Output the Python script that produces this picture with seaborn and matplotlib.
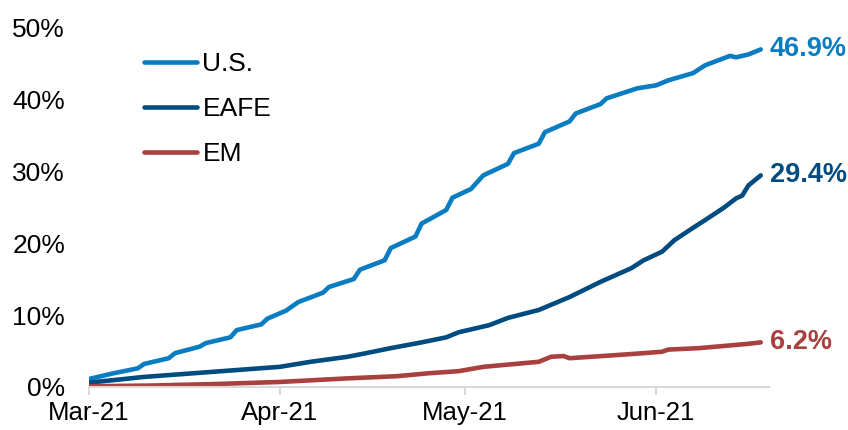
import pandas as pd
import matplotlib.pyplot as plt
import matplotlib.dates as mdates
from matplotlib.ticker import FuncFormatter
import seaborn as sns

# Cumulative vaccination share (%)
us_dates = ['2021-03-01', '2021-03-05', '2021-03-09', '2021-03-10', '2021-03-14', '2021-03-15',
            '2021-03-19', '2021-03-20', '2021-03-24', '2021-03-25', '2021-03-29', '2021-03-30',
            '2021-04-02', '2021-04-04', '2021-04-08', '2021-04-09', '2021-04-13', '2021-04-14',
            '2021-04-18', '2021-04-19', '2021-04-23', '2021-04-24', '2021-04-28', '2021-04-29',
            '2021-05-02', '2021-05-04', '2021-05-08', '2021-05-09', '2021-05-13', '2021-05-14',
            '2021-05-18', '2021-05-19', '2021-05-23', '2021-05-24', '2021-05-29', '2021-06-01',
            '2021-06-03', '2021-06-07', '2021-06-09', '2021-06-13', '2021-06-14', '2021-06-16',
            '2021-06-18']
us_vals = [1.1, 1.9, 2.6, 3.2, 4.0, 4.7,
           5.6, 6.1, 6.9, 7.9, 8.7, 9.5,
           10.6, 11.8, 13.1, 13.9, 15.0, 16.3,
           17.6, 19.3, 20.9, 22.7, 24.6, 26.3,
           27.5, 29.4, 31.0, 32.5, 33.8, 35.4,
           36.9, 38.0, 39.3, 40.1, 41.5, 41.9,
           42.6, 43.6, 44.7, 46.0, 45.8, 46.2,
           46.9]

eafe_dates = ['2021-03-01', '2021-03-10', '2021-03-21', '2021-04-01', '2021-04-06', '2021-04-12',
              '2021-04-15', '2021-04-19', '2021-04-24', '2021-04-28', '2021-04-30', '2021-05-03',
              '2021-05-05', '2021-05-08', '2021-05-13', '2021-05-18', '2021-05-23', '2021-05-28',
              '2021-05-30', '2021-06-02', '2021-06-04', '2021-06-07', '2021-06-09', '2021-06-12',
              '2021-06-14', '2021-06-15', '2021-06-16', '2021-06-18']
eafe_vals = [0.6, 1.4, 2.1, 2.8, 3.5, 4.2,
             4.7, 5.4, 6.2, 6.9, 7.6, 8.2,
             8.6, 9.6, 10.7, 12.5, 14.6, 16.5,
             17.6, 18.8, 20.4, 22.1, 23.2, 24.9,
             26.2, 26.6, 28.0, 29.4]

em_dates = ['2021-03-01', '2021-03-11', '2021-03-21', '2021-04-01', '2021-04-12', '2021-04-20',
            '2021-04-25', '2021-04-30', '2021-05-04', '2021-05-13', '2021-05-15', '2021-05-17',
            '2021-05-18', '2021-05-25', '2021-05-30', '2021-06-02', '2021-06-03', '2021-06-08',
            '2021-06-12', '2021-06-16', '2021-06-18']
em_vals = [0.1, 0.2, 0.4, 0.7, 1.2, 1.5,
           1.9, 2.2, 2.8, 3.5, 4.2, 4.3,
           4.0, 4.4, 4.7, 4.9, 5.2, 5.4,
           5.7, 6.0, 6.2]

series = ['U.S.', 'EAFE', 'EM']
colors = ['#0a7cc2', '#004b80', '#a8403d']

frames = []
for name, d, v in zip(series, [us_dates, eafe_dates, em_dates], [us_vals, eafe_vals, em_vals]):
    frames.append(pd.DataFrame({'date': pd.to_datetime(d), 'value': v, 'series': name}))
df = pd.concat(frames, ignore_index=True)

sns.set_style("white")
plt.rcParams['font.family'] = ['Liberation Sans', 'DejaVu Sans']

fig = plt.figure(figsize=(8.48, 4.30), dpi=100)
ax = fig.add_axes([0.1045, 0.1, 0.8023, 0.837])

sns.lineplot(data=df, x='date', y='value', hue='series', hue_order=series,
             palette=colors, linewidth=3.3, ax=ax)

# End-of-line labels
for name, color in zip(series, colors):
    last = df[df['series'] == name].iloc[-1]
    ax.annotate(f"{last['value']:.1f}%", xy=(last['date'], last['value']),
                xytext=(6.5, 0), textcoords='offset points', va='center', ha='left',
                color=color, fontsize=19.5, fontweight='bold', annotation_clip=False)

ax.set_xlim(pd.Timestamp('2021-03-01'), pd.Timestamp('2021-06-19 08:00'))
ax.set_ylim(0, 50)
ax.set_yticks([0, 10, 20, 30, 40, 50])
ax.yaxis.set_major_formatter(FuncFormatter(lambda v, p: f"{v:.0f}%"))
ax.set_xticks(pd.to_datetime(['2021-03-01', '2021-04-01', '2021-05-01', '2021-06-01']))
ax.xaxis.set_major_formatter(mdates.DateFormatter('%b-%y'))
ax.set_xlabel('')
ax.set_ylabel('')

for s in ['top', 'right', 'left']:
    ax.spines[s].set_visible(False)
ax.spines['bottom'].set_color('#d9d9d9')
ax.spines['bottom'].set_linewidth(1.5)
ax.tick_params(axis='x', direction='out', length=6, width=1.5, color='#d9d9d9',
               labelsize=18.5, labelcolor='black', pad=4, bottom=True)
ax.tick_params(axis='y', length=0, labelsize=19, labelcolor='black', pad=17, left=False)

leg = ax.legend(loc='upper left', bbox_to_anchor=(0.047, 0.997), frameon=False, fontsize=19,
                handlelength=2.0, handletextpad=0.2, labelspacing=0.8)
for text in leg.get_texts():
    text.set_color('black')
for line in leg.get_lines():
    line.set_linewidth(3.3)

fig.savefig('out.png', dpi=100)
